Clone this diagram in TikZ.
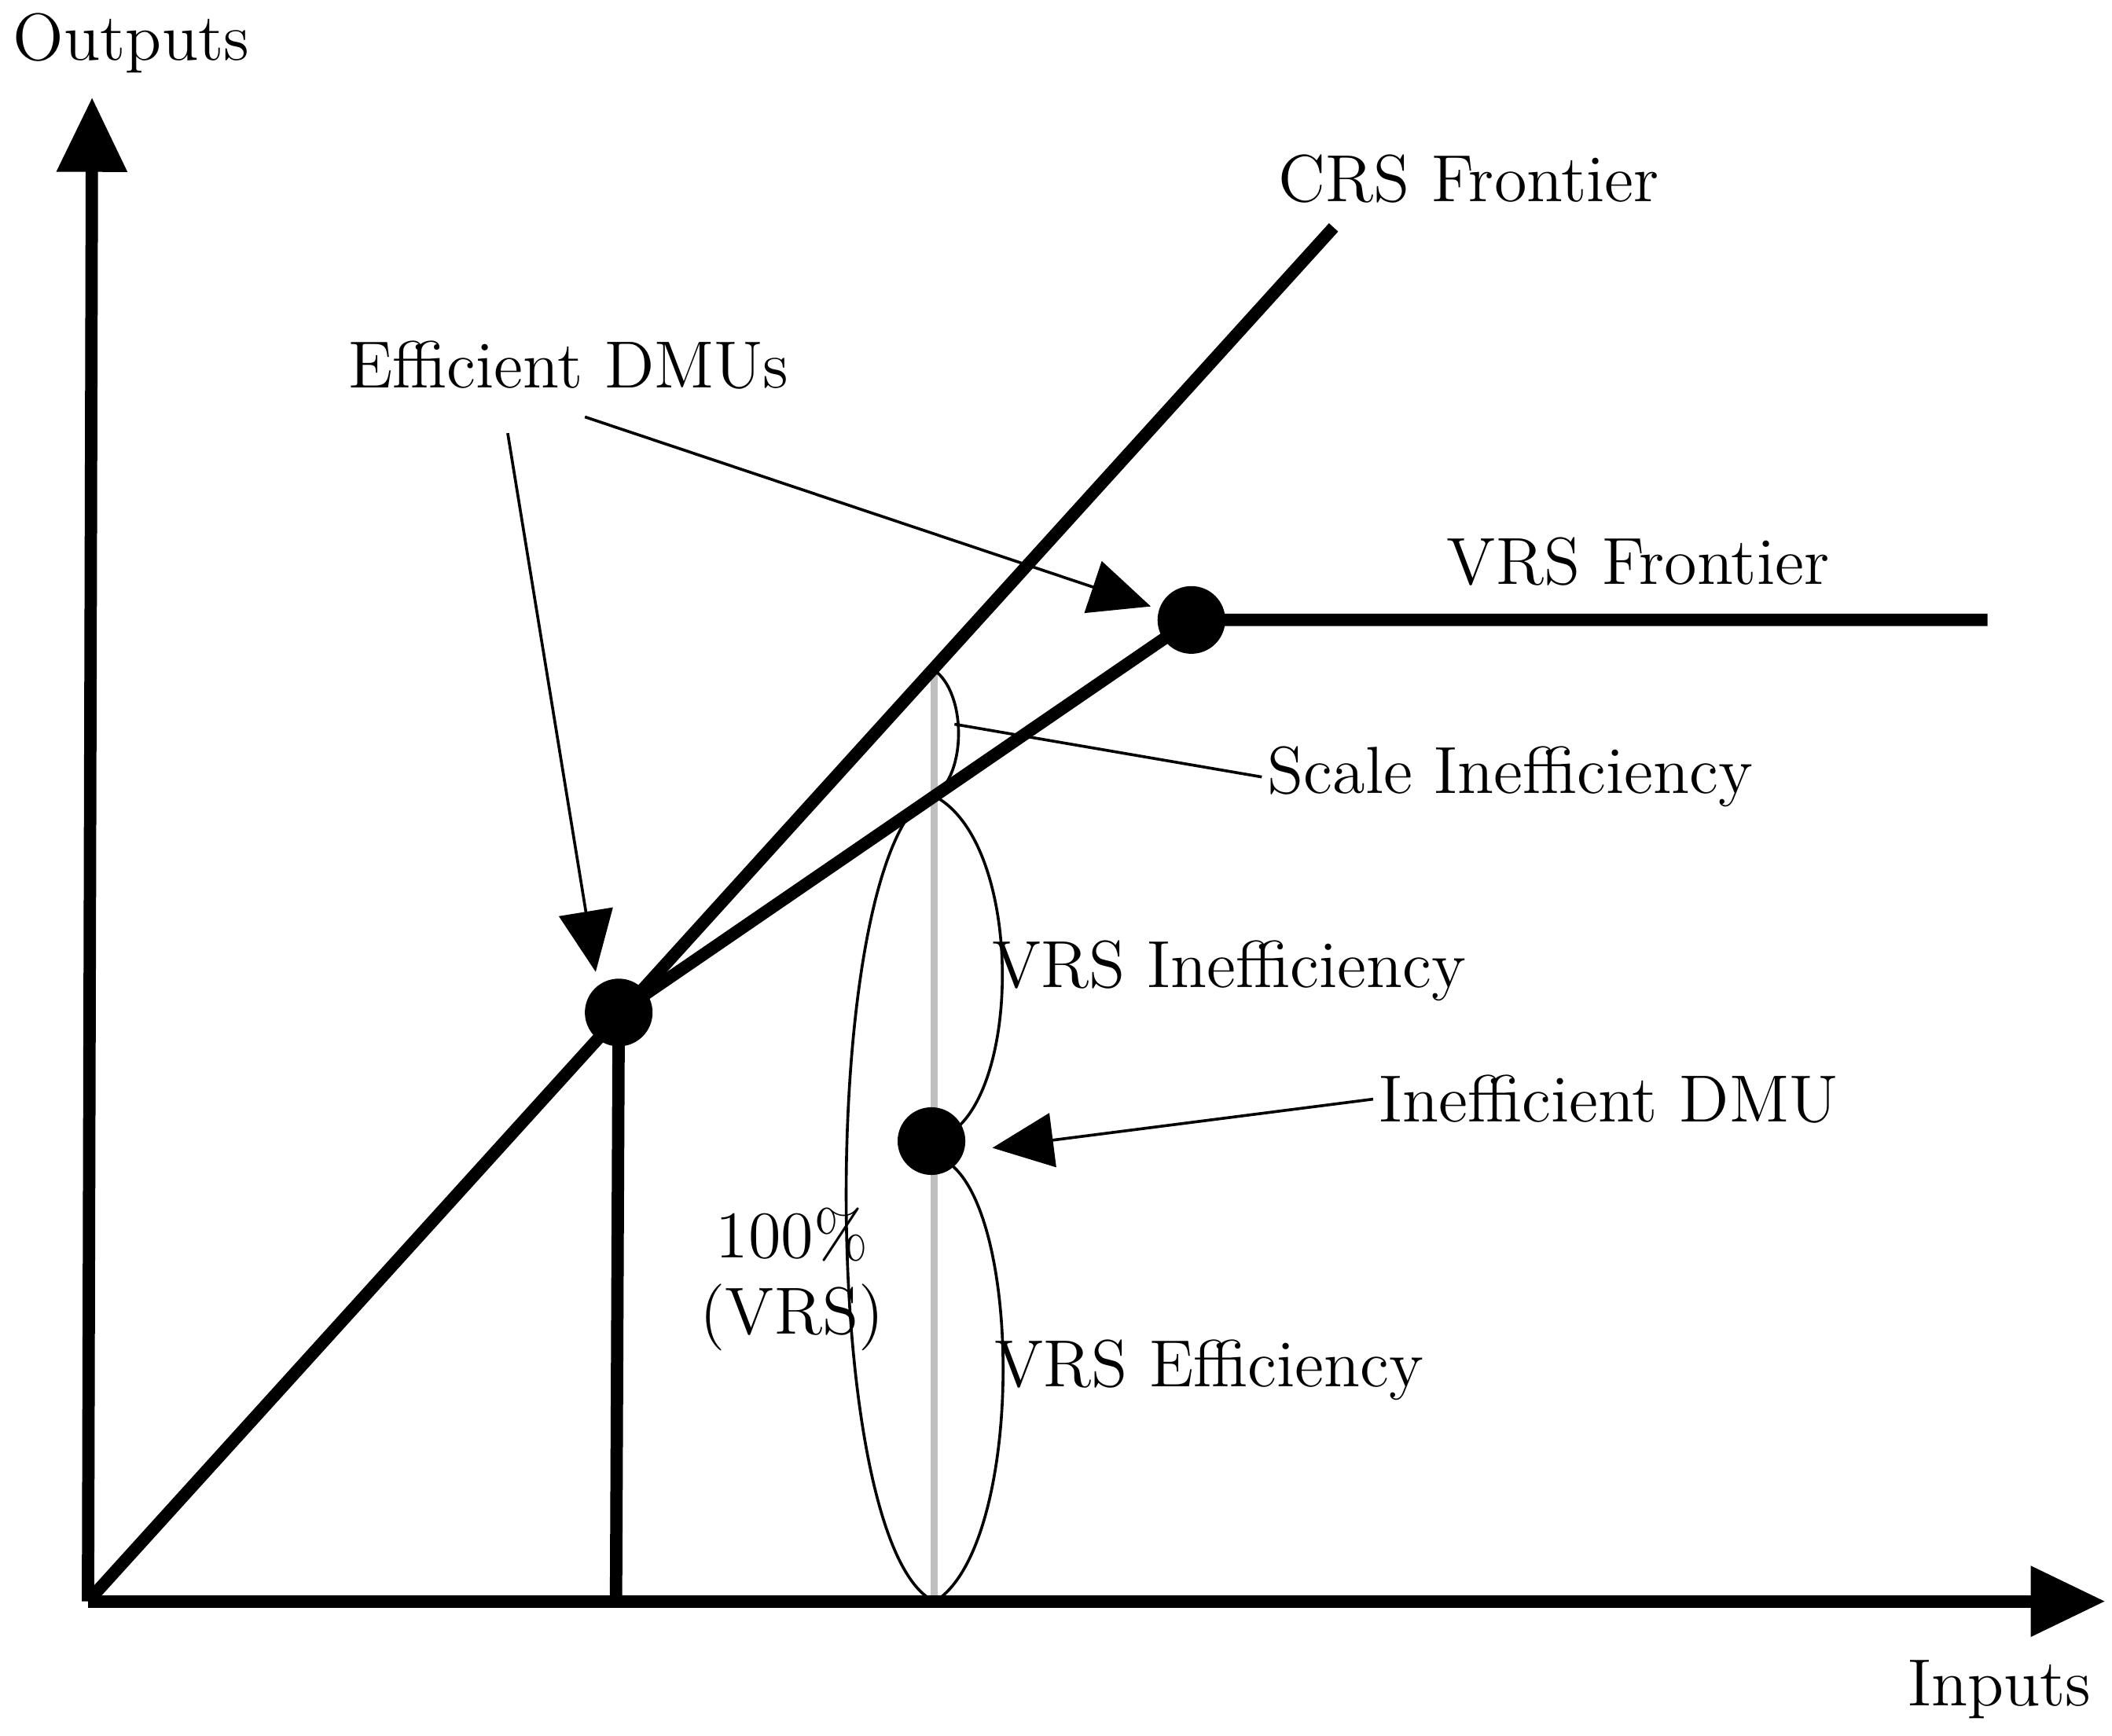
\documentclass[tikz,border=0pt]{standalone}
\usetikzlibrary{arrows.meta}
\begin{document}
\begin{tikzpicture}[
  thick line/.style={line width=2.6pt},
  lbl/.style={font=\fontsize{14}{16}\selectfont, inner sep=1pt},
  dot/.style={circle, fill=black, minimum size=0.5cm, inner sep=0pt},
  thin/.style={line width=0.6pt},
  ptr/.style={thin, -{Triangle[length=0.45cm,width=0.4cm]}},
  axis/.style={thick line, -{Triangle[length=0.55cm,width=0.5cm]}}
]
\useasboundingbox (0,0) rectangle (15.6,12.82);
\coordinate (O) at (0.65,0.99);
\coordinate (Ytip) at (0.68,12.10);
\coordinate (Xtip) at (15.55,0.99);
\coordinate (CRSend) at (9.85,11.14);
\coordinate (Afoot) at (4.55,0.99);
\coordinate (VRSend) at (14.68,8.24);
\coordinate (Gtop) at (6.90,7.87);
\coordinate (Gmid) at (6.90,6.94);
\coordinate (Gbot) at (6.90,1.02);
% gray line
\draw[line width=1.6pt, gray!50] (Gtop) -- (Gbot);
% axes
\draw[axis] (O) -- (Ytip);
\draw[axis] (O) -- (Xtip);
% frontiers
\node[dot] (A) at (4.57,5.34) {};
\node[dot] (B) at (8.80,8.24) {};
\node[dot] (C) at (6.88,4.39) {};
\draw[thick line] (O) -- (CRSend);
\draw[thick line] (A.center) -- (Afoot);
\draw[thick line] (A.center) -- (B.center) -- (VRSend);
% braces
\draw[thin] (Gtop) .. controls (7.14,7.7) and (7.14,7.1) .. (Gmid);
\draw[thin] (Gmid) .. controls (7.55,6.6) and (7.55,4.8) .. (7.02,4.45);
\draw[thin] (7.02,4.22) .. controls (7.55,3.8) and (7.55,1.5) .. (6.95,1.02);
\draw[thin] (6.85,6.94) .. controls (6.05,6.4) and (6.05,1.6) .. (6.85,1.02);
% labels
\node[lbl] (out) at (0.97,12.50) {Outputs};
\node[lbl] (in) at (14.77,0.34) {Inputs};
\node[lbl] (crs) at (10.85,11.50) {CRS Frontier};
\node[lbl] (vrs) at (12.10,8.67) {VRS Frontier};
\node[lbl] (eff) at (4.20,10.12) {Efficient DMUs};
\node[lbl, anchor=west] (scale) at (9.32,7.08) {Scale Inefficiency};
\node[lbl] (vrsi) at (9.08,5.65) {VRS Inefficiency};
\node[lbl] (ineff) at (11.88,4.70) {Inefficient DMU};
\node[lbl] (vrse) at (8.93,2.70) {VRS Efficiency};
\node[lbl, align=center] (hund) at (5.85,3.37) {100\%\\(VRS)};
% pointers
\coordinate (p1) at (3.75,9.62);
\coordinate (p2) at (4.32,9.74);
\draw[ptr] (p1) -- (4.40,5.64);
\draw[ptr] (p2) -- (8.50,8.34);
\draw[thin] (7.05,7.47) -- (scale.west);
\draw[ptr] (ineff.west) -- (7.33,4.34);
\end{tikzpicture}
\end{document}
